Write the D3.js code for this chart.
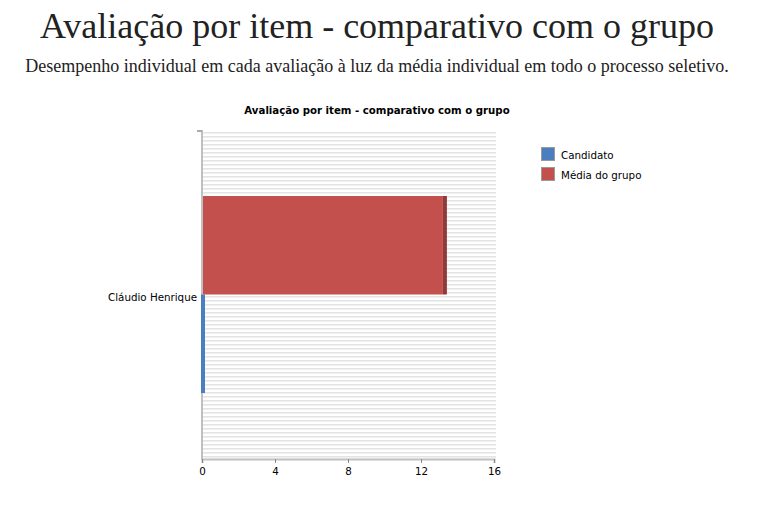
<!DOCTYPE html>
<html><head><meta charset="utf-8">
<script src="https://cdn.jsdelivr.net/npm/d3@7"></script>
<style>body{margin:0;background:#fff;}svg{display:block;}</style>
</head><body>
<svg id="c" width="778" height="512"></svg>
<script>
const categories = ["Cláudio Henrique"];
const seriesNames = ["Candidato", "Média do grupo"];
const candidato = [0];
const mediaGrupo = [13.2];
const xTicks = [0, 4, 8, 12, 16];
const colors = ["#4a7ebf", "#c4504e"];
const edgeColors = ["#3a68a4", "#923a38"];

const svg = d3.select("#c");
const defs = svg.append("defs");
const pat = defs.append("pattern").attr("id","stripes").attr("patternUnits","userSpaceOnUse")
  .attr("width",8).attr("height",4);
pat.append("rect").attr("width",8).attr("height",4).attr("fill","#ffffff");
pat.append("rect").attr("y",0).attr("width",8).attr("height",1).attr("fill","#e4e4e4");
pat.append("rect").attr("y",1).attr("width",8).attr("height",1).attr("fill","#efefef");

svg.append("text").attr("x",377).attr("y",38).attr("text-anchor","middle")
  .attr("font-family","Liberation Serif, serif").attr("font-size",36).attr("fill","#222")
  .text("Avaliação por item - comparativo com o grupo");
svg.append("text").attr("x",377).attr("y",72).attr("text-anchor","middle")
  .attr("font-family","Liberation Serif, serif").attr("font-size",18).attr("fill","#222")
  .text("Desempenho individual em cada avaliação à luz da média individual em todo o processo seletivo.");
svg.append("text").attr("x",377).attr("y",114).attr("text-anchor","middle")
  .attr("font-family","DejaVu Sans, sans-serif").attr("font-weight","bold").attr("font-size",10.2).attr("fill","#000")
  .text("Avaliação por item - comparativo com o grupo");

const pLeft = 202, pRight = 494, pTop = 130, pBottom = 459;
const x = d3.scaleLinear().domain([0,16]).range([pLeft,pRight]);
const y = d3.scaleBand().domain(categories).range([pTop,pBottom]).paddingInner(0).paddingOuter(0.335);
const ySub = d3.scaleBand().domain(seriesNames.slice().reverse()).range([0,y.bandwidth()]).padding(0);

svg.append("rect").attr("x",pLeft+1).attr("y",pTop).attr("width",pRight-pLeft+1).attr("height",pBottom-pTop)
  .attr("fill","url(#stripes)");

// y axis line
svg.append("rect").attr("x",pLeft-1).attr("y",pTop).attr("width",2).attr("height",pBottom-pTop+1).attr("fill","#c0c0c0");
svg.append("rect").attr("x",pLeft-5).attr("y",pTop).attr("width",5).attr("height",2).attr("fill","#aaaaaa");

const depth = 4;
const data = [candidato, mediaGrupo];
data.forEach((vals, si) => {
  const g = svg.append("g");
  vals.forEach((v, ci) => {
    const yy = y(categories[ci]) + ySub(seriesNames[si]);
    const h = ySub.bandwidth();
    g.append("rect").attr("x",x(0)+1).attr("y",yy).attr("width",Math.max(0,x(v)-x(0)-1)).attr("height",h)
      .attr("fill",colors[si]);
    g.append("rect").attr("x",x(v)+(v===0?-1:0)).attr("y",yy).attr("width",depth).attr("height",h)
      .attr("fill", v===0 ? colors[si] : edgeColors[si]);
  });
});

// x axis
const xa = svg.append("g").attr("transform",`translate(0,${pBottom})`)
  .call(d3.axisBottom(x).tickValues(xTicks).tickSize(4).tickPadding(5));
xa.select(".domain").attr("stroke","#c0c0c0").attr("stroke-width",2);
xa.selectAll(".tick line").attr("stroke","#888");
xa.selectAll("text").attr("font-family","DejaVu Sans, sans-serif").attr("font-size",10.3).attr("fill","#000");

// category labels
svg.selectAll(".cat").data(categories).enter().append("text")
  .attr("x",pLeft-5).attr("y",d=>y(d)+y.bandwidth()/2+6).attr("text-anchor","end")
  .attr("font-family","DejaVu Sans, sans-serif").attr("font-size",10.3).attr("fill","#000").text(d=>d);

// legend
const lg = svg.append("g").attr("transform","translate(541,147)");
seriesNames.forEach((s,i)=>{
  lg.append("rect").attr("x",0.5).attr("y",i*20+0.5).attr("width",13).attr("height",13)
    .attr("fill",colors[i]).attr("stroke","#9a9a9a").attr("stroke-width",1);
  lg.append("text").attr("x",20).attr("y",i*20+12).attr("font-family","DejaVu Sans, sans-serif")
    .attr("font-size",10.3).attr("fill","#000").text(s);
});
</script>
</body></html>
